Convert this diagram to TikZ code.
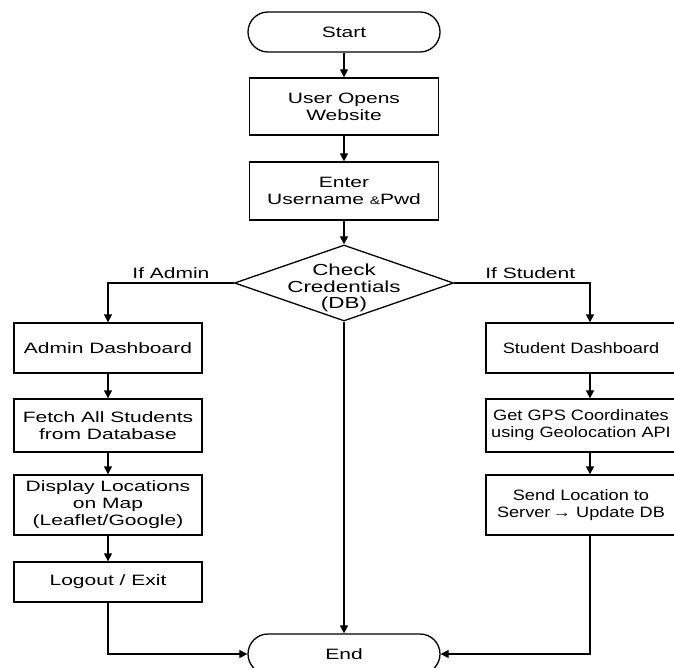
\documentclass[tikz,border=0pt]{standalone}
\usepackage{fontspec}
\setmainfont{Liberation Sans}[FakeStretch=1.4]
\newfontfamily\narrowfont{Liberation Sans}[FakeStretch=1.21]
\usetikzlibrary{shapes.geometric,arrows.meta}
\begin{document}
\begin{tikzpicture}[x=1pt,y=-1pt,
  every node/.style={font=\fontsize{15}{17}\selectfont, align=center},
  box/.style={draw, line width=1.3pt, rectangle, inner sep=0pt},
  lbox/.style={box, minimum width=188pt},
  rbox/.style={box, minimum width=190pt, font=\narrowfont\fontsize{15}{17}\selectfont},
  term/.style={draw, line width=1.3pt, rounded corners=20pt, minimum width=192pt, minimum height=40pt, inner sep=0pt},
  dec/.style={draw, line width=1.3pt, diamond, minimum width=219pt, minimum height=76pt, inner sep=0pt},
  arr/.style={line width=1.3pt, -{Triangle[length=8pt,width=8pt]}},
  lbl/.style={anchor=south, inner sep=4pt}]
\useasboundingbox (0,0) rectangle (674,668);
\fill[white] (0,0) rectangle (674,668);

\node[term] (start) at (344,32) {Start};
\node[box, minimum width=189pt, minimum height=57pt] (user) at (344,106.5) {User Opens\\Website};
\node[box, minimum width=189pt, minimum height=58pt] (enter) at (344,191) {Enter\\Username {\fontsize{11}{11}\selectfont\&}Pwd};
\node[dec] (chk) at (344,283) {};
\node[font=\fontsize{16}{16.5}\selectfont] (chktxt) at (344,288) {Check\\Credentials\\(DB)};

\node[lbox, minimum height=50pt] (admin) at (108,348) {Admin Dashboard};
\node[lbox, minimum height=53pt] (fetch) at (108,425.5) {Fetch All Students\\from Database};
\node[lbox, minimum height=60pt] (disp) at (108,505) {Display Locations\\on Map\\(Leaflet/Google)};
\node[lbox, minimum height=40pt] (logout) at (108,582) {Logout / Exit};

\node[rbox, minimum height=50pt] (student) at (581,348) {Student Dashboard};
\node[rbox, minimum height=53pt] (gps) at (581,425.5) {Get GPS Coordinates\\using Geolocation API};
\node[rbox, minimum height=60pt] (send) at (581,505) {Send Location to\\Server\,→ Update DB};

\node[term] (end) at (344,654) {End};

\draw[arr] (start) -- (user);
\draw[arr] (user) -- (enter);
\draw[arr] (enter) -- (chk.north);
\draw[arr] (chk.west) -| node[lbl, pos=0.25] (ifa) {If Admin} (admin.north);
\draw[arr] (chk.east) -| node[lbl, pos=0.28] (ifs) {If Student} ([xshift=9pt]student.north);
\draw[arr] (chk.south) -- (end.north);
\draw[arr] (admin) -- (fetch);
\draw[arr] (fetch) -- (disp);
\draw[arr] (disp) -- (logout);
\draw[arr] (logout.south) |- (end.west);
\draw[arr] ([xshift=9pt]student.south) -- ([xshift=9pt]gps.north);
\draw[arr] ([xshift=9pt]gps.south) -- ([xshift=9pt]send.north);
\draw[arr] ([xshift=9pt]send.south) |- (end.east);
\end{tikzpicture}
\end{document}
